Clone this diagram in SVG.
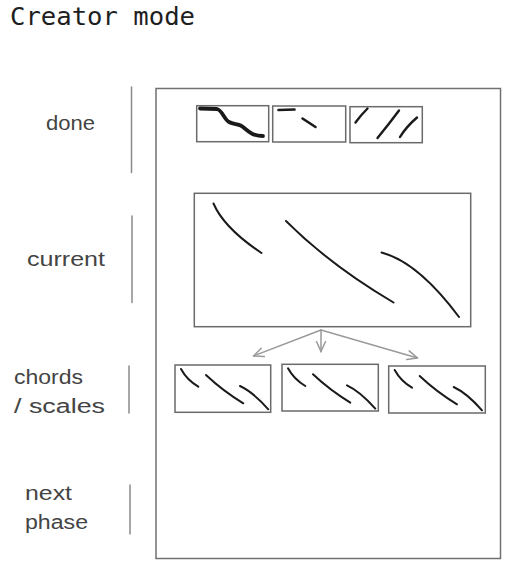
<svg xmlns="http://www.w3.org/2000/svg" xmlns:xlink="http://www.w3.org/1999/xlink" width="514" height="573" viewBox="0 0 514 573">
<style>
.frame{fill:none;stroke:#707070;stroke-width:1.5}
.box{fill:none;stroke:#6a6a6a;stroke-width:1.5}
.sep{fill:none;stroke:#8a8a8a;stroke-width:1.5;stroke-linecap:round}
.ink{fill:none;stroke:#1a1a1a;stroke-width:2;stroke-linecap:round;stroke-linejoin:round}
.conn{fill:none;stroke:#9a9a9a;stroke-width:1.5;stroke-linecap:round}
.lbl{font-family:"Liberation Sans","DejaVu Sans",sans-serif;font-size:20px;fill:#444444}
.title{font-family:"DejaVu Sans Mono","Liberation Mono",monospace;font-size:24px;fill:#1e1e1e}
</style>
<defs>
<marker id="arr" viewBox="0 0 12 12" refX="11" refY="6" markerWidth="12" markerHeight="12" markerUnits="userSpaceOnUse" orient="auto">
<path d="M1,1.5 L11,6 L1,10.5" fill="none" stroke="#9a9a9a" stroke-width="1.5" stroke-linecap="round"/>
</marker>
<g id="mini">
<path class="ink" d="M6,4 Q12,15 23.3,21.7"/>
<path class="ink" d="M31,10 Q48,26 68.3,38.3"/>
<path class="ink" d="M65,21 Q78,27 93.3,44.3"/>
</g>
</defs>
<rect width="514" height="573" fill="#ffffff"/>
<text class="title" x="10" y="25" textLength="185" lengthAdjust="spacingAndGlyphs">Creator mode</text>

<g id="labels">
<text class="lbl" x="46" y="130" textLength="49" lengthAdjust="spacingAndGlyphs">done</text>
<text class="lbl" x="27" y="266" textLength="78" lengthAdjust="spacingAndGlyphs">current</text>
<text class="lbl" x="14" y="384" textLength="69" lengthAdjust="spacingAndGlyphs">chords</text>
<text class="lbl" x="14" y="413" textLength="91" lengthAdjust="spacingAndGlyphs">/ scales</text>
<text class="lbl" x="25" y="500" textLength="47" lengthAdjust="spacingAndGlyphs">next</text>
<text class="lbl" x="25" y="529" textLength="63" lengthAdjust="spacingAndGlyphs">phase</text>
</g>

<g id="separators">
<line class="sep" x1="131.5" y1="87" x2="131.5" y2="172.5"/>
<line class="sep" x1="132" y1="216" x2="132" y2="302.5"/>
<line class="sep" x1="129" y1="366" x2="129" y2="413"/>
<line class="sep" x1="130" y1="485" x2="130" y2="534"/>
</g>

<g id="frame">
<rect class="frame" x="156" y="88.5" width="344.5" height="470"/>
</g>

<g id="done-1">
<rect class="box" x="196.7" y="105.7" width="72" height="36"/>
<path class="ink" style="stroke-width:3.8" d="M200,108.5 L217,109 C222,110 224,119 229,122 C234,125 239,123 243,127 C248,131 252,136 263,136"/>
</g>
<g id="done-2">
<rect class="box" x="272.7" y="106" width="73" height="36"/>
<path class="ink" style="stroke-width:2.6" d="M278.5,110 L294.5,109.5"/>
<path class="ink" style="stroke-width:2.6" d="M302.5,118.5 L315.5,127"/>
</g>
<g id="done-3">
<rect class="box" x="350" y="106.7" width="72.3" height="36"/>
<path class="ink" style="stroke-width:2.4" d="M367.5,108.5 Q361,115 355.5,122.5"/>
<path class="ink" style="stroke-width:2.4" d="M399,110.5 Q389,124 377.5,138"/>
<path class="ink" style="stroke-width:2.4" d="M417,117.5 Q406,127 400,137"/>
</g>

<g id="current">
<rect class="box" x="194.3" y="193.3" width="276.4" height="133.4"/>
<path class="ink" d="M213.5,203.5 Q224,228 261.5,253"/>
<path class="ink" d="M286,221 Q330,265 393.5,302.5"/>
<path class="ink" d="M381.5,252.5 Q418,262 459,317"/>
</g>

<g id="connectors">
<line class="conn" x1="321" y1="330" x2="253.5" y2="356" marker-end="url(#arr)"/>
<line class="conn" x1="321" y1="330" x2="321" y2="351.5" marker-end="url(#arr)"/>
<line class="conn" x1="321" y1="330" x2="417.5" y2="358" marker-end="url(#arr)"/>
</g>

<g id="option-1">
<rect class="box" x="175" y="365" width="95.7" height="47.3"/>
<use xlink:href="#mini" href="#mini" transform="translate(175,365)"/>
</g>
<g id="option-2">
<rect class="box" x="282" y="364.3" width="96.3" height="46.7"/>
<use xlink:href="#mini" href="#mini" transform="translate(282,364.3)"/>
</g>
<g id="option-3">
<rect class="box" x="388.7" y="366" width="96.6" height="47"/>
<use xlink:href="#mini" href="#mini" transform="translate(388.7,366)"/>
</g>
</svg>
